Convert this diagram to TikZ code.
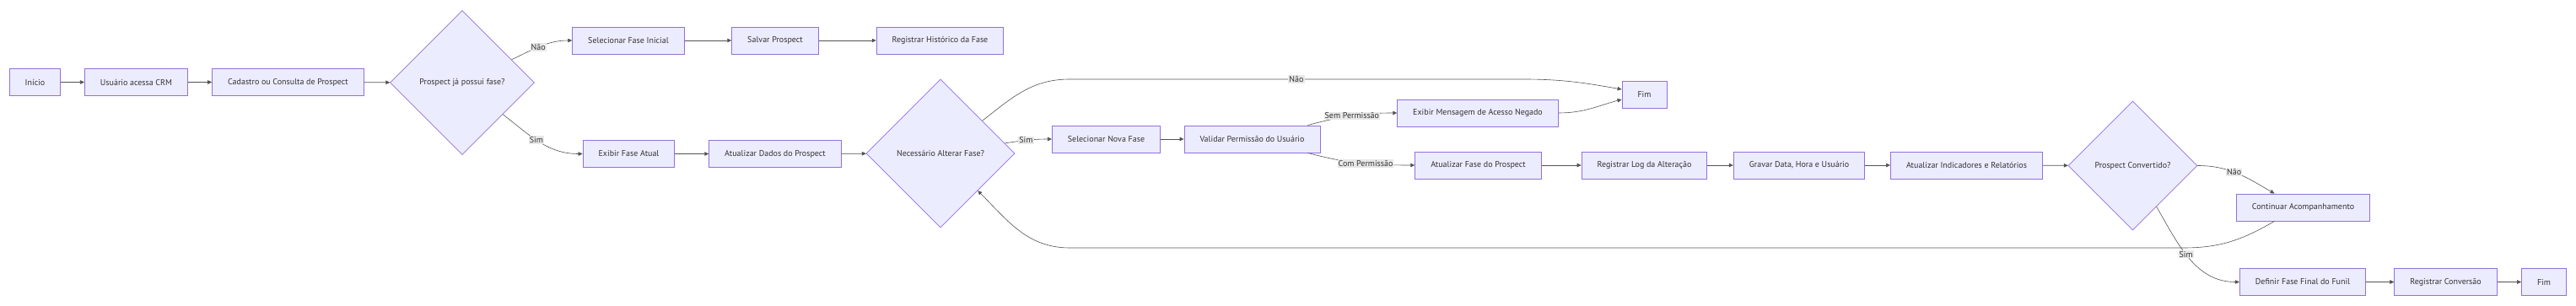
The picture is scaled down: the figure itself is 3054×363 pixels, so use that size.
\documentclass[tikz,border=0pt]{standalone}
\usepackage{fontspec}
\setmainfont{PT Sans}
\usetikzlibrary{shapes.geometric,arrows.meta}
\definecolor{boxfill}{HTML}{ECECFF}
\definecolor{boxline}{HTML}{9370DB}
\definecolor{edgeline}{HTML}{333333}
\definecolor{lblfill}{HTML}{E8E8E8}

\begin{document}
\begin{tikzpicture}[x=1pt,y=1pt,
    box/.style={draw=boxline,fill=boxfill,line width=0.9pt,minimum height=32pt,inner xsep=18.5pt,font=\fontsize{10}{12}\selectfont,text=edgeline},
    dec/.style={diamond,aspect=1,draw=boxline,fill=boxfill,line width=0.7pt,inner sep=0pt,font=\fontsize{10}{12}\selectfont,text=edgeline},
    arr/.style={draw=edgeline!85,line width=0.6pt,-{Triangle[length=5pt,width=4.5pt]}},
    lbl/.style={fill=lblfill,inner sep=1pt,font=\fontsize{10}{12}\selectfont,text=edgeline}]
    \useasboundingbox (0,0) rectangle (3054,-363);
    % first row
    \node[box] (ini) at (41.5,-97.5) {Início};
    \node[box] (usu) at (161.5,-97.5) {Usuário acessa CRM};
    \node[box] (cad) at (341.5,-97.5) {Cadastro ou Consulta de Prospect};
    \node[dec,minimum size=171pt] (d1) at (548,-98) {Prospect já possui fase?};
    \node[box] (sfi) at (745,-48) {Selecionar Fase Inicial};
    \node[box] (sal) at (919,-48) {Salvar Prospect};
    \node[box] (reg) at (1114.5,-48) {Registrar Histórico da Fase};
    \node[box] (efa) at (745.5,-182.5) {Exibir Fase Atual};
    \node[box] (atd) at (919,-182.5) {Atualizar Dados do Prospect};
    \node[dec,minimum size=176pt] (d2) at (1115,-182) {Necessário Alterar Fase?};
    \node[box] (snf) at (1311.5,-165) {Selecionar Nova Fase};
    \node[box] (val) at (1484.5,-165) {Validar Permissão do Usuário};
    \node[box] (emn) at (1752,-134) {Exibir Mensagem de Acesso Negado};
    \node[box] (fim1) at (1949.5,-112) {Fim};
    \node[box] (afp) at (1752.5,-196) {Atualizar Fase do Prospect};
    \node[box] (rla) at (1949.5,-196) {Registrar Log da Alteração};
    \node[box] (gdh) at (2133,-196) {Gravar Data, Hora e Usuário};
    \node[box] (air) at (2331.5,-196) {Atualizar Indicadores e Relatórios};
    \node[dec,minimum size=153pt] (d3) at (2528.5,-196.5) {Prospect Convertido?};
    \node[box] (ca) at (2730.5,-246) {Continuar Acompanhamento};
    \node[box] (dff) at (2730,-334.5) {Definir Fase Final do Funil};
    \node[box] (rcv) at (2899.5,-334.5) {Registrar Conversão};
    \node[box] (fim2) at (3016,-334.5) {Fim};
    % waypoints
    \coordinate (naoA) at (1268,-94);
    \coordinate (naoB) at (1806,-94);
    \coordinate (lpA) at (2589,-294);
    \coordinate (lpB) at (1268,-294);
    % connectors
    \draw[arr] (ini) -- (usu);
    \draw[arr] (usu) -- (cad);
    \draw[arr] (cad) -- (d1);
    \draw[arr] (d1) to[out=25,in=180] node[lbl,pos=0.45]{Não} (sfi);
    \draw[arr] (d1) to[out=-38,in=180] node[lbl,pos=0.45]{Sim} (efa);
    \draw[arr] (sfi) -- (sal);
    \draw[arr] (sal) -- (reg);
    \draw[arr] (efa) -- (atd);
    \draw[arr] (atd) -- (d2);
    \draw[arr] (d2) to[out=38,in=180] (naoA) -- node[lbl]{Não} (naoB) to[out=0,in=170] ([yshift=6pt]fim1.west);
    \draw[arr] (d2) to[out=9,in=180] node[lbl,pos=0.45]{Sim} (snf);
    \draw[arr] (snf) -- (val);
    \draw[arr] ([xshift=-15pt]val.north east) to[out=15,in=180] node[lbl]{Sem Permissão} (emn);
    \draw[arr] ([xshift=-15pt]val.south east) to[out=-15,in=180] node[lbl,pos=0.55]{Com Permissão} (afp);
    \draw[arr] (emn) to[out=0,in=195] ([yshift=-6pt]fim1.west);
    \draw[arr] (afp) -- (rla);
    \draw[arr] (rla) -- (gdh);
    \draw[arr] (gdh) -- (air);
    \draw[arr] (air) -- (d3);
    \draw[arr] (d3.east) to[out=0,in=150] node[lbl,pos=0.45]{Não} ([xshift=-34pt]ca.north);
    \draw[arr] ([xshift=-34pt]ca.south) to[out=-150,in=0] (lpA) -- (lpB) to[out=180,in=-45] (d2);
    \draw[arr] (d3) to[out=-60,in=180] node[lbl,pos=0.45]{Sim} (dff);
    \draw[arr] (dff) -- (rcv);
    \draw[arr] (rcv) -- (fim2);
\end{tikzpicture}
\end{document}
